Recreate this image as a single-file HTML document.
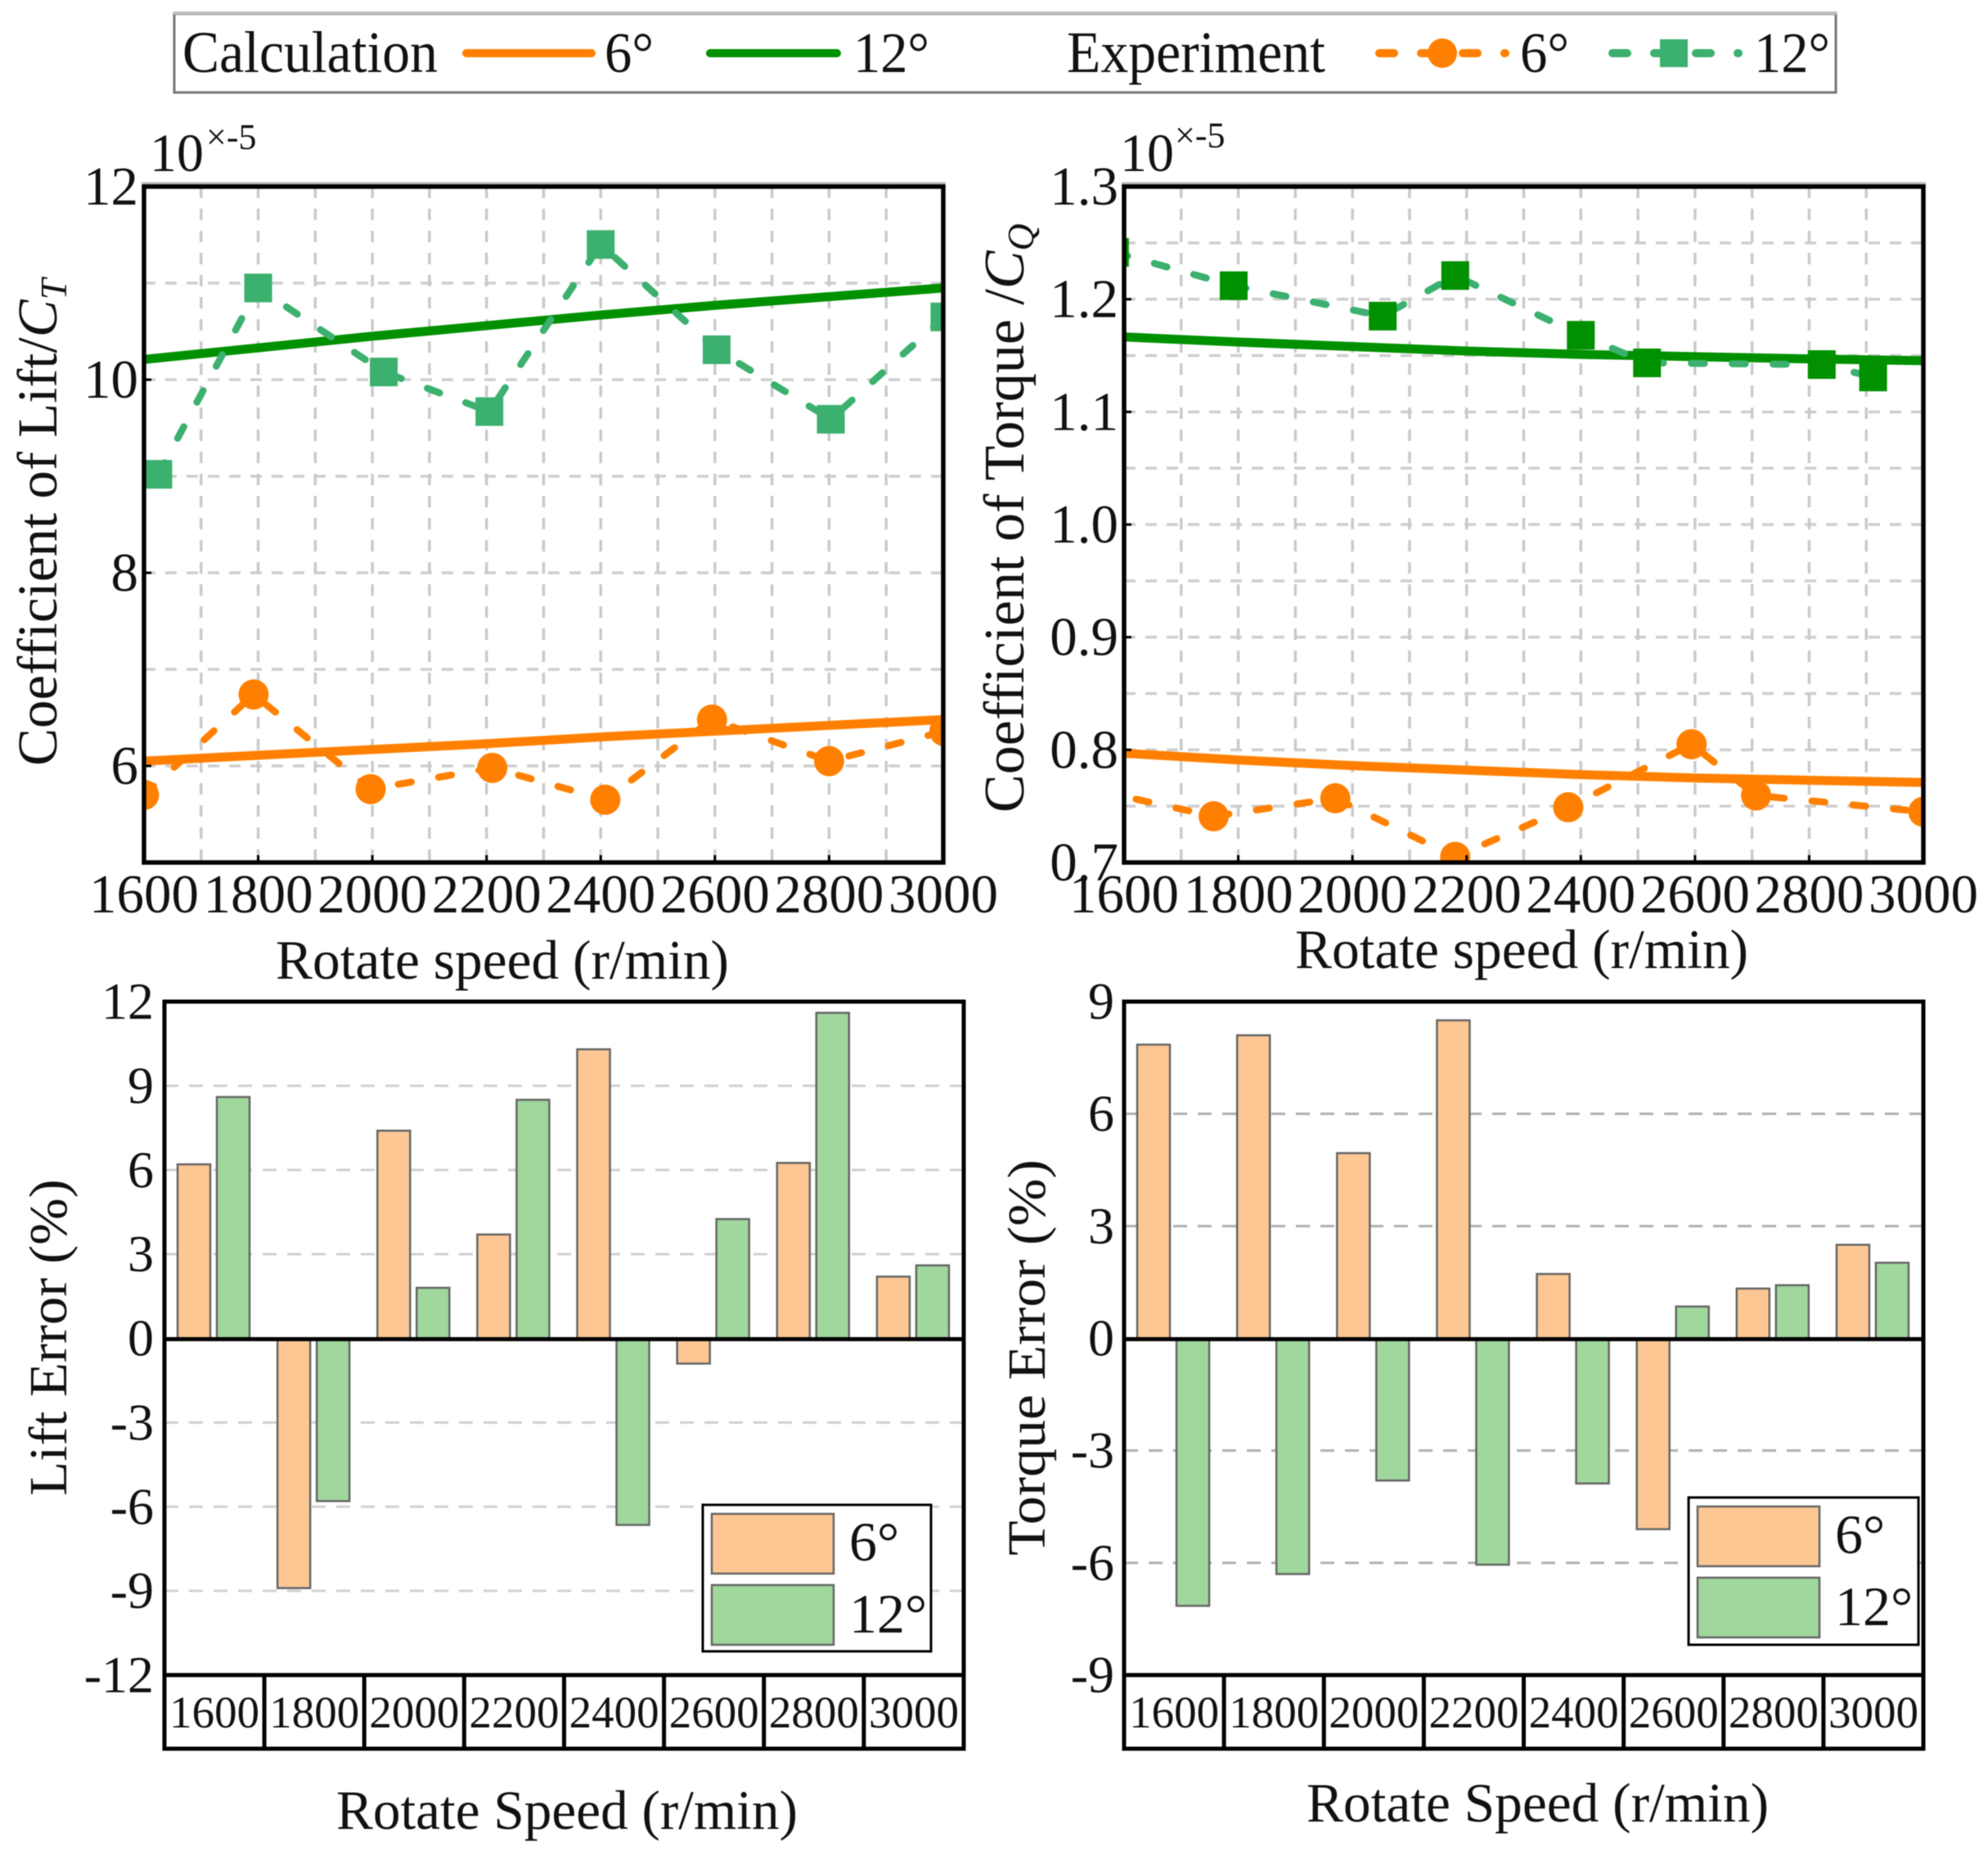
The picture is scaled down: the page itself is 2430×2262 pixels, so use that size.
<!DOCTYPE html>
<html lang="en">
<head>
<meta charset="utf-8">
<title>Lift and torque coefficient comparison</title>
<style>
html,body{margin:0;padding:0;background:#fff;}
svg{display:block;font-family:"Liberation Serif","Times New Roman",serif;fill:#111;filter:blur(0.6px);}
</style>
</head>
<body>
<svg id="figure" xmlns="http://www.w3.org/2000/svg" width="2430" height="2262" viewBox="0 0 2430 2262">
  <rect width="2430" height="2262" fill="#ffffff"/>

  <g>
    <rect x="213" y="17" width="2031" height="96" fill="#fff" stroke="#777" stroke-width="3"/>
    <line x1="212" x2="2245" y1="16" y2="16" stroke="#bdbdbd" stroke-width="4"/>
    <text x="223" y="88" font-size="72" textLength="312" lengthAdjust="spacingAndGlyphs">Calculation</text>
    <line x1="570" x2="723" y1="65" y2="65" stroke="#ff8000" stroke-width="10" stroke-linecap="round"/>
    <text x="739" y="88" font-size="70" textLength="60" lengthAdjust="spacingAndGlyphs">6°</text>
    <line x1="868" x2="1023" y1="65" y2="65" stroke="#009000" stroke-width="10" stroke-linecap="round"/>
    <text x="1043" y="88" font-size="70" textLength="93" lengthAdjust="spacingAndGlyphs">12°</text>
    <text x="1304" y="88" font-size="72" textLength="316" lengthAdjust="spacingAndGlyphs">Experiment</text>
    <line x1="1686" x2="1840" y1="65" y2="65" stroke="#ff8000" stroke-width="10" stroke-linecap="round" stroke-dasharray="18 33"/>
    <circle cx="1763" cy="65" r="18" fill="#ff8000"/>
    <text x="1858" y="88" font-size="70" textLength="60" lengthAdjust="spacingAndGlyphs">6°</text>
    <line x1="1971" x2="2125" y1="65" y2="65" stroke="#3cb06e" stroke-width="10" stroke-linecap="round" stroke-dasharray="18 33"/>
    <rect x="2029" y="48" width="34" height="34" fill="#3cb06e"/>
    <text x="2144" y="88" font-size="70" textLength="93" lengthAdjust="spacingAndGlyphs">12°</text>
  </g>

  <g>
    <text x="183" y="209" font-size="66">10</text>
    <text x="252" y="182" font-size="44">×-5</text>
    <text transform="translate(69,936) rotate(-90)" font-size="69">Coefficient of Lift/<tspan font-style="italic">C</tspan><tspan font-style="italic" font-size="46" dy="12">T</tspan></text>
    <text x="337" y="1196" font-size="68" textLength="554" lengthAdjust="spacingAndGlyphs">Rotate speed (r/min)</text>
  </g>

  <g>
    <text x="1369" y="209" font-size="66">10</text>
    <text x="1436" y="180" font-size="44">×-5</text>
    <text transform="translate(1251,993) rotate(-90)" font-size="70">Coefficient of Torque /<tspan font-style="italic">C</tspan><tspan font-style="italic" font-size="46" dy="12">Q</tspan></text>
    <text x="1583" y="1183" font-size="68" textLength="554" lengthAdjust="spacingAndGlyphs">Rotate speed (r/min)</text>
  </g>

  <g>
    <text transform="translate(81,1828) rotate(-90)" font-size="66" textLength="387" lengthAdjust="spacingAndGlyphs">Lift Error (%)</text>
    <text x="411" y="2235" font-size="68" textLength="564" lengthAdjust="spacingAndGlyphs">Rotate Speed (r/min)</text>
  </g>

  <g>
    <text transform="translate(1277,1901) rotate(-90)" font-size="66" textLength="484" lengthAdjust="spacingAndGlyphs">Torque Error (%)</text>
    <text x="1597" y="2226" font-size="68" textLength="565" lengthAdjust="spacingAndGlyphs">Rotate Speed (r/min)</text>
  </g>
</svg>

<script>
// ---------- Shared axis values ----------
const speedMajorTicks = [1600, 1800, 2000, 2200, 2400, 2600, 2800, 3000];
const speedGridTicks = [1700, 1800, 1900, 2000, 2100, 2200, 2300, 2400, 2500, 2600, 2700, 2800, 2900];

// ---------- Lift coefficient (x10^-5) ----------
const liftTickLabels = ['6', '8', '10', '12'];
const liftGridValues = [6, 7, 8, 9, 10, 11];
const liftCalc6 = [6.05, 6.11, 6.17, 6.23, 6.30, 6.36, 6.42, 6.48];
const liftCalc12 = [10.21, 10.33, 10.45, 10.56, 10.67, 10.77, 10.86, 10.95];
const liftExp6Speeds = [1600, 1792, 1997, 2210, 2408, 2595, 2800, 3002];
const liftExp6Values = [5.70, 6.74, 5.76, 5.98, 5.65, 6.48, 6.05, 6.36];
const liftExp12Speeds = [1625, 1800, 2020, 2205, 2400, 2603, 2803, 3002];
const liftExp12Values = [9.02, 10.95, 10.08, 9.67, 11.40, 10.31, 9.59, 10.65];

// ---------- Torque coefficient (x10^-5) ----------
const torqueTickLabels = ['0.7', '0.8', '0.9', '1.0', '1.1', '1.2', '1.3'];
const torqueGridValues = [0.75, 0.8, 0.85, 0.9, 0.95, 1.0, 1.05, 1.1, 1.15, 1.2, 1.25];
const torqueCalc6 = [0.797, 0.791, 0.786, 0.782, 0.778, 0.775, 0.773, 0.771];
const torqueCalc12 = [1.1665, 1.162, 1.158, 1.154, 1.151, 1.149, 1.147, 1.1455];
const torqueExp6Speeds = [1551, 1757, 1970, 2180, 2378, 2594, 2707, 3000];
const torqueExp6Values = [0.764, 0.741, 0.757, 0.705, 0.749, 0.805, 0.7595, 0.745];
const torqueExp12Speeds = [1584, 1792, 2053, 2180, 2400, 2516, 2822, 2912];
const torqueExp12Values = [1.2416, 1.212, 1.185, 1.221, 1.168, 1.1435, 1.142, 1.131];

// ---------- Error bars (%) ----------
const liftErrorTickLabels = ['-12', '-9', '-6', '-3', '0', '3', '6', '9', '12'];
const liftError6 = [6.2, -8.9, 7.4, 3.7, 10.3, -0.9, 6.25, 2.2];
const liftError12 = [8.6, -5.8, 1.8, 8.5, -6.65, 4.25, 11.6, 2.6];
const torqueErrorTickLabels = ['-9', '-6', '-3', '0', '3', '6', '9'];
const torqueError6 = [7.85, 8.1, 4.95, 8.5, 1.72, -5.1, 1.33, 2.5];
const torqueError12 = [-7.15, -6.3, -3.8, -6.05, -3.88, 0.85, 1.42, 2.02];

const NS = 'http://www.w3.org/2000/svg';
const figure = document.getElementById('figure');

function mk(tag, attrs, parent) {
  const el = document.createElementNS(NS, tag);
  for (const k in attrs) el.setAttribute(k, attrs[k]);
  (parent || figure).appendChild(el);
  return el;
}
function linear(d0, d1, r0, r1) {
  return v => r0 + (v - d0) * (r1 - r0) / (d1 - d0);
}
function group(name) {
  const g = mk('g', {});
  
  
  return g;
}

function drawLineChart(cfg) {
  const g = group(cfg.name);
  const x = linear(1600, 3000, cfg.left, cfg.right);
  const y = linear(cfg.yMin, cfg.yMax, cfg.bottom, cfg.top);
  const clipId = cfg.name + '-clip';
  const defs = mk('defs', {}, g);
  const cp = mk('clipPath', { id: clipId }, defs);
  mk('rect', { x: cfg.left, y: cfg.top, width: cfg.right - cfg.left, height: cfg.bottom - cfg.top }, cp);

  cfg.grid.forEach(v => {
    const l = mk('line', { x1: cfg.left, x2: cfg.right, y1: y(v), y2: y(v), stroke: '#cecece', 'stroke-width': 3.5, 'stroke-dasharray': '14 12' }, g);
    
    
  });
  speedGridTicks.forEach(v => {
    const l = mk('line', { x1: x(v), x2: x(v), y1: cfg.top, y2: cfg.bottom, stroke: '#cacaca', 'stroke-width': 3.5, 'stroke-dasharray': '14 13' }, g);
    
    
  });

  const plot = mk('g', { 'clip-path': 'url(#' + clipId + ')' }, g);
  
  

  const pts = (xs, ys) => xs.map((s, i) => x(s) + ',' + y(ys[i])).join(' ');

  const c6 = mk('polyline', { points: pts(speedMajorTicks, cfg.calc6), fill: 'none', stroke: '#ff8000', 'stroke-width': 11 }, plot);
  
  
  const c12 = mk('polyline', { points: pts(speedMajorTicks, cfg.calc12), fill: 'none', stroke: '#009000', 'stroke-width': 11 }, plot);
  
  

  const e6 = mk('polyline', { points: pts(cfg.exp6Speeds, cfg.exp6Values), fill: 'none', stroke: '#ff8000', 'stroke-width': 8.5, 'stroke-linecap': 'round', 'stroke-dasharray': '16 34' }, plot);
  
  
  const e12 = mk('polyline', { points: pts(cfg.exp12Speeds, cfg.exp12Values), fill: 'none', stroke: '#3cb06e', 'stroke-width': 8.5, 'stroke-linecap': 'round', 'stroke-dasharray': '16 34' }, plot);
  
  

  cfg.exp6Speeds.forEach((s, i) => {
    const m = mk('circle', { cx: x(s), cy: y(cfg.exp6Values[i]), r: 18.5, fill: '#ff8000' }, plot);
    
    
  });
  cfg.exp12Speeds.forEach((s, i) => {
    const m = mk('rect', { x: x(s) - 17, y: y(cfg.exp12Values[i]) - 17.5, width: 34, height: 35, fill: cfg.exp12Marker }, plot);
    
    
  });

  // ticks + labels
  speedMajorTicks.forEach(s => {
    const t = mk('line', { x1: x(s), x2: x(s), y1: cfg.bottom, y2: cfg.bottom - 9, stroke: '#000', 'stroke-width': 3 }, g);
    
    
    const lb = mk('text', { x: x(s), y: 1115, 'font-size': 67, 'text-anchor': 'middle' }, g);
    lb.textContent = s;
    
    
  });
  cfg.yLabels.forEach(label => {
    const v = parseFloat(label);
    const t = mk('line', { x1: cfg.left, x2: cfg.left + 9, y1: y(v), y2: y(v), stroke: '#000', 'stroke-width': 3 }, g);
    
    
    const lb = mk('text', { x: cfg.left - 7, y: y(v) + 22, 'font-size': 67, 'text-anchor': 'end' }, g);
    lb.textContent = label;
    
    
  });

  const edge = mk('line', { x1: cfg.left - 3, x2: cfg.right + 3, y1: cfg.top - 4, y2: cfg.top - 4, stroke: '#bdbdbd', 'stroke-width': 3 }, g);
  
  
  const frame = mk('rect', { x: cfg.left, y: cfg.top, width: cfg.right - cfg.left, height: cfg.bottom - cfg.top, fill: 'none', stroke: '#000', 'stroke-width': 5.5 }, g);
  
  
}

function drawBarChart(cfg) {
  const g = group(cfg.name);
  const y = linear(cfg.yMin, cfg.yMax, cfg.axisBottom, cfg.top);
  const cellW = (cfg.right - cfg.left) / speedMajorTicks.length;
  const zero = y(0);

  cfg.yLabels.forEach(label => {
    const v = parseFloat(label);
    if (v !== 0 && v !== cfg.yMin && v !== cfg.yMax) {
      const l = mk('line', { x1: cfg.left, x2: cfg.right, y1: y(v), y2: y(v), stroke: cfg.gridColor, 'stroke-width': 3, 'stroke-dasharray': '17 13' }, g);
      
      
    }
    const lb = mk('text', { x: cfg.labelRight, y: y(v) + 21, 'font-size': 64, 'text-anchor': 'end' }, g);
    lb.textContent = label;
    
    
  });

  speedMajorTicks.forEach((s, i) => {
    const cx = cfg.left + cellW * (i + 0.5);
    const v6 = cfg.values6[i];
    const b6 = mk('rect', { x: cx - 45, y: Math.min(y(v6), zero), width: 40, height: Math.abs(y(v6) - zero), fill: '#fdc794', stroke: '#666', 'stroke-width': 2.5 }, g);
    
    
    const v12 = cfg.values12[i];
    const b12 = mk('rect', { x: cx + 3, y: Math.min(y(v12), zero), width: 40, height: Math.abs(y(v12) - zero), fill: '#9fd79c', stroke: '#666', 'stroke-width': 2.5 }, g);
    
    
    const lb = mk('text', { x: cx, y: 2111, 'font-size': 55, 'text-anchor': 'middle' }, g);
    lb.textContent = s;
    
    
    if (i > 0) {
      const d = mk('line', { x1: cfg.left + cellW * i, x2: cfg.left + cellW * i, y1: cfg.axisBottom, y2: cfg.tableBottom, stroke: '#000', 'stroke-width': 5 }, g);
      
      
    }
  });

  const zl = mk('line', { x1: cfg.left, x2: cfg.right, y1: zero + 1, y2: zero + 1, stroke: '#000', 'stroke-width': 5 }, g);
  
  
  const frame = mk('rect', { x: cfg.left, y: cfg.top, width: cfg.right - cfg.left, height: cfg.tableBottom - cfg.top, fill: 'none', stroke: '#000', 'stroke-width': 5 }, g);
  
  
  const tl = mk('line', { x1: cfg.left, x2: cfg.right, y1: cfg.axisBottom, y2: cfg.axisBottom, stroke: '#000', 'stroke-width': 5 }, g);
  
  

  const lg = mk('g', {}, g);
  
  
  const L = cfg.legend;
  const box = mk('rect', { x: L.x, y: L.y, width: L.w, height: L.h, fill: '#fff', stroke: '#000', 'stroke-width': 3 }, lg);
  
  
  const s6 = mk('rect', { x: L.x + 11, y: L.y + 11, width: 149, height: 73, fill: '#fdc794', stroke: '#666', 'stroke-width': 2.5 }, lg);
  
  
  const s12 = mk('rect', { x: L.x + 11, y: L.y + 98, width: 149, height: 73, fill: '#9fd79c', stroke: '#666', 'stroke-width': 2.5 }, lg);
  
  
  const t6 = mk('text', { x: L.x + 179, y: L.y + 68, 'font-size': 68 }, lg);
  t6.textContent = '6°';
  
  
  const t12 = mk('text', { x: L.x + 179, y: L.y + 156, 'font-size': 68 }, lg);
  t12.textContent = '12°';
  
  
}

drawLineChart({
  name: 'lift-coefficient-chart', left: 176, right: 1153, top: 228, bottom: 1054,
  yMin: 5, yMax: 12, yLabels: liftTickLabels, grid: liftGridValues,
  calc6: liftCalc6, calc12: liftCalc12,
  exp6Speeds: liftExp6Speeds, exp6Values: liftExp6Values,
  exp12Speeds: liftExp12Speeds, exp12Values: liftExp12Values,
  exp12Marker: '#3cb06e'
});
drawLineChart({
  name: 'torque-coefficient-chart', left: 1374, right: 2351, top: 228, bottom: 1054,
  yMin: 0.7, yMax: 1.3, yLabels: torqueTickLabels, grid: torqueGridValues,
  calc6: torqueCalc6, calc12: torqueCalc12,
  exp6Speeds: torqueExp6Speeds, exp6Values: torqueExp6Values,
  exp12Speeds: torqueExp12Speeds, exp12Values: torqueExp12Values,
  exp12Marker: '#009000'
});
drawBarChart({
  name: 'lift-error-chart', left: 201, right: 1178, top: 1224, axisBottom: 2047, tableBottom: 2137,
  yMin: -12, yMax: 12, yLabels: liftErrorTickLabels, labelRight: 188,
  values6: liftError6, values12: liftError12, gridColor: '#d0d0d0',
  legend: { x: 859, y: 1839, w: 279, h: 179 }
});
drawBarChart({
  name: 'torque-error-chart', left: 1374, right: 2351, top: 1224, axisBottom: 2047, tableBottom: 2137,
  yMin: -9, yMax: 9, yLabels: torqueErrorTickLabels, labelRight: 1362,
  values6: torqueError6, values12: torqueError12, gridColor: '#b0b0b0',
  legend: { x: 2064, y: 1830, w: 281, h: 180 }
});
</script>
</body>
</html>
